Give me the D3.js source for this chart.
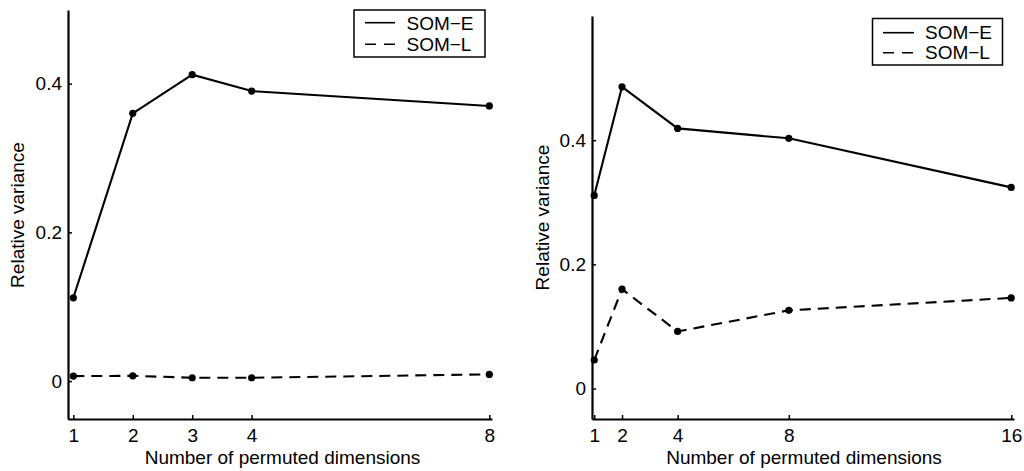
<!DOCTYPE html>
<html>
<head>
<meta charset="utf-8">
<script src="https://cdn.jsdelivr.net/npm/d3@7"></script>
<style>
  html, body { margin: 0; padding: 0; background: #fff; }
  svg { display: block; }
  text { font-family: "Liberation Sans", Arial, Helvetica, sans-serif; fill: #000; }
</style>
</head>
<body>
<svg id="chart" width="1024" height="471"></svg>
<script>
// ---- Data ----
const seriesNames = ["SOM\u2212E", "SOM\u2212L"];

const leftX = [1, 2, 3, 4, 8];
const leftSomE = [0.112, 0.360, 0.412, 0.390, 0.370];
const leftSomL = [0.0067, 0.007, 0.0045, 0.0045, 0.009];
const leftXTicks = [1, 2, 3, 4, 8];
const leftYTicks = [0, 0.2, 0.4];

const rightX = [1, 2, 4, 8, 16];
const rightSomE = [0.311, 0.486, 0.419, 0.403, 0.324];
const rightSomL = [0.046, 0.160, 0.092, 0.126, 0.146];
const rightXTicks = [1, 2, 4, 8, 16];
const rightYTicks = [0, 0.2, 0.4];

const xLabel = "Number of permuted dimensions";
const yLabel = "Relative variance";

// ---- Layout ----
const FS = 19;
const svg = d3.select("#chart");

const panels = [
  {
    xs: leftX, e: leftSomE, l: leftSomL, xt: leftXTicks, yt: leftYTicks,
    xDom: [0.91, 8.045], xRange: [68, 492],
    yDom: [-0.051, 0.499], yRange: [419, 10],
    xLabelPos: [282.5, 464], yLabelPos: [23.5, 215],
    legend: { x0: 354, y0: 10, x1: 485, y1: 57, lx0: 365, lx1: 395, tx: 406.5, rows: [22.7, 44.3], base: [30, 50.7] }
  },
  {
    xs: rightX, e: rightSomE, l: rightSomL, xt: rightXTicks, yt: rightYTicks,
    xDom: [0.92, 16.1], xRange: [592, 1014],
    yDom: [-0.049, 0.6], yRange: [419, 16],
    xLabelPos: [804, 464], yLabelPos: [548.5, 217.5],
    legend: { x0: 872.5, y0: 18.5, x1: 1002.5, y1: 65, lx0: 883, lx1: 914, tx: 925, rows: [32.7, 52.7], base: [39.3, 59.3] }
  }
];

const fmt = d => d === 0 ? "0" : d3.format(".1f")(d);

panels.forEach(p => {
  const x = d3.scaleLinear().domain(p.xDom).range(p.xRange);
  const y = d3.scaleLinear().domain(p.yDom).range(p.yRange);
  const g = svg.append("g");

  // x axis
  const xa = g.append("g")
    .attr("transform", `translate(0,${p.yRange[0]})`)
    .call(d3.axisBottom(x).tickValues(p.xt).tickFormat(d3.format("d"))
      .tickSizeInner(-4).tickSizeOuter(0).tickPadding(10));
  // y axis
  const ya = g.append("g")
    .attr("transform", `translate(${p.xRange[0]},0)`)
    .call(d3.axisLeft(y).tickValues(p.yt).tickFormat(fmt)
      .tickSizeInner(-4).tickSizeOuter(0).tickPadding(6));

  [xa, ya].forEach(a => {
    a.select(".domain").attr("stroke", "#000").attr("stroke-width", 2.2);
    a.selectAll(".tick line").attr("stroke", "#000").attr("stroke-width", 1.5);
    a.selectAll(".tick text").attr("font-size", FS)
      .attr("font-family", "'Liberation Sans', Arial, sans-serif").attr("fill", "#000");
  });

  // axis titles
  g.append("text")
    .attr("x", p.xLabelPos[0]).attr("y", p.xLabelPos[1])
    .attr("text-anchor", "middle").attr("font-size", FS)
    .text(xLabel);
  g.append("text")
    .attr("transform", `translate(${p.yLabelPos[0]},${p.yLabelPos[1]}) rotate(-90)`)
    .attr("text-anchor", "middle").attr("font-size", FS)
    .text(yLabel);

  // lines
  const line = d3.line().x(d => x(d[0])).y(d => y(d[1]));
  const eData = p.xs.map((v, i) => [v, p.e[i]]);
  const lData = p.xs.map((v, i) => [v, p.l[i]]);

  g.append("path").datum(eData).attr("d", line)
    .attr("fill", "none").attr("stroke", "#000").attr("stroke-width", 2.1);
  g.append("path").datum(lData).attr("d", line)
    .attr("fill", "none").attr("stroke", "#000").attr("stroke-width", 2.1)
    .attr("stroke-dasharray", "11,7");

  [eData, lData].forEach(data => {
    g.selectAll(null).data(data).enter().append("circle")
      .attr("cx", d => x(d[0])).attr("cy", d => y(d[1]))
      .attr("r", 3.6).attr("fill", "#000");
  });

  // legend
  const L = p.legend;
  g.append("rect")
    .attr("x", L.x0).attr("y", L.y0)
    .attr("width", L.x1 - L.x0).attr("height", L.y1 - L.y0)
    .attr("fill", "#fff").attr("stroke", "#000").attr("stroke-width", 1.5);
  seriesNames.forEach((name, i) => {
    g.append("line")
      .attr("x1", L.lx0).attr("x2", L.lx1)
      .attr("y1", L.rows[i]).attr("y2", L.rows[i])
      .attr("stroke", "#000").attr("stroke-width", 1.6)
      .attr("stroke-dasharray", i === 1 ? "11,8" : null);
    g.append("text")
      .attr("x", L.tx).attr("y", L.base[i])
      .attr("font-size", FS)
      .text(name);
  });
});
</script>
</body>
</html>
